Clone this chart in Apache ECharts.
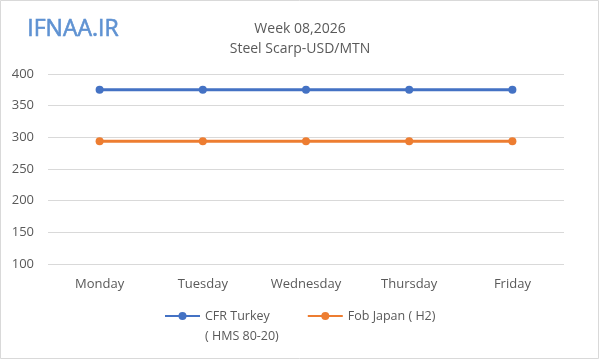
<!DOCTYPE html>
<html><head><meta charset="utf-8">
<script src="https://cdn.jsdelivr.net/npm/echarts@6/dist/echarts.min.js"></script>
<style>html,body{margin:0;padding:0;background:#fff}#c{width:600px;height:360px}</style>
</head><body><div id="c"></div>
<script>
const categories = ['Monday','Tuesday','Wednesday','Thursday','Friday'];
const cfrTurkey = [375, 375, 375, 375, 375];
const fobJapan = [294, 294, 294, 294, 294];
const yTicks = [100, 150, 200, 250, 300, 350, 400];
const seriesNames = ['CFR Turkey\n( HMS 80-20)', 'Fob Japan ( H2)'];

const chart = echarts.init(document.getElementById('c'));
const font = '"Open Sans", "Liberation Sans", sans-serif';
chart.setOption({
  animation: false,
  backgroundColor: '#fff',
  title: {
    text: 'Week 08,2026\nSteel Scarp-USD/MTN',
    left: 'center', top: 14,
    textStyle: {color: '#595959', fontSize: 14, fontWeight: 'normal', lineHeight: 20, fontFamily: font}
  },
  graphic: [
    {type: 'rect', shape: {x: 0.5, y: 0.5, width: 598, height: 358}, style: {fill: 'none', stroke: '#d9d9d9', lineWidth: 1}, silent: true},
    {type: 'text', left: 27, top: 18, style: {text: 'IFNAA.IR', fill: '#5f92d2', font: 'normal 23px "Open Sans", sans-serif', stroke: '#5f92d2', lineWidth: 0.6, shadowColor: 'rgba(70,110,170,0.5)', shadowBlur: 4, shadowOffsetX: 1, shadowOffsetY: 1}}
  ],
  grid: {left: 48, right: 36, top: 74, bottom: 96},
  legend: {
    top: 281, left: 159, itemGap: 28, itemWidth: 35, itemHeight: 10,
    textStyle: {color: '#595959', fontSize: 12.5, fontFamily: font, lineHeight: 20},
    formatter: function (name) { return name.indexOf('\n') >= 0 ? ' \n' + name : name; },
    data: seriesNames
  },
  xAxis: {
    type: 'category', data: categories, boundaryGap: true,
    axisLine: {show: false}, axisTick: {show: false},
    axisLabel: {color: '#595959', fontSize: 13, fontFamily: font, margin: 14}
  },
  yAxis: {
    type: 'value', min: yTicks[0], max: yTicks[yTicks.length-1], interval: 50,
    axisLine: {show: false}, axisTick: {show: false},
    axisLabel: {color: '#595959', fontSize: 13, fontFamily: font, margin: 14},
    splitLine: {lineStyle: {color: '#d9d9d9'}}
  },
  series: [
    {name: seriesNames[0], type: 'line', data: cfrTurkey, symbol: 'circle', symbolSize: 8,
      itemStyle: {color: '#4472c4'}, lineStyle: {width: 3, color: '#4472c4'}},
    {name: seriesNames[1], type: 'line', data: fobJapan, symbol: 'circle', symbolSize: 8,
      itemStyle: {color: '#ed7d31'}, lineStyle: {width: 3, color: '#ed7d31'}}
  ]
});
</script></body></html>
